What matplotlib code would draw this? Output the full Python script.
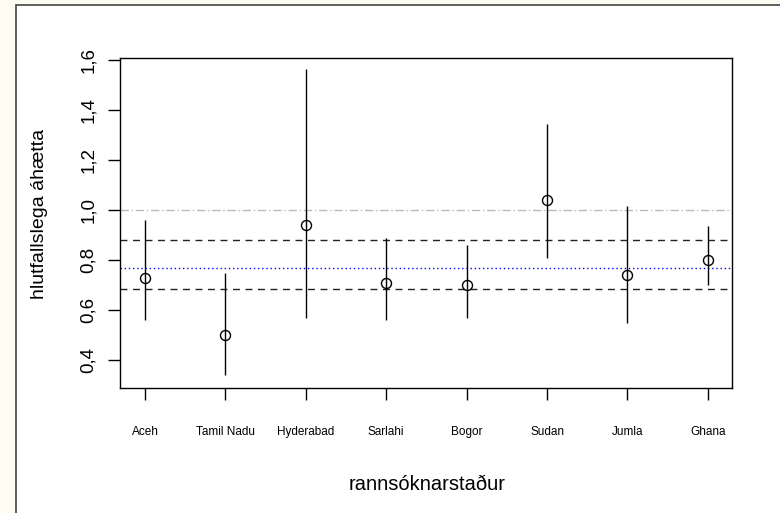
import matplotlib
matplotlib.use("Agg")
import matplotlib.pyplot as plt
from matplotlib.patches import Rectangle
from matplotlib.ticker import FuncFormatter

sites = ["Aceh", "Tamil Nadu", "Hyderabad", "Sarlahi", "Bogor", "Sudan", "Jumla", "Ghana"]
rr = [0.73, 0.50, 0.94, 0.71, 0.70, 1.04, 0.74, 0.80]
lower = [0.56, 0.34, 0.57, 0.56, 0.57, 0.81, 0.55, 0.70]
upper = [0.96, 0.75, 1.565, 0.89, 0.86, 1.345, 1.015, 0.935]
pooled = 0.767
pooled_lo = 0.683
pooled_hi = 0.88
null_line = 1.0
yticks = [0.4, 0.6, 0.8, 1.0, 1.2, 1.4, 1.6]

plt.rcParams['font.family'] = ['Liberation Sans', 'DejaVu Sans']

W, H = 780, 513
fig = plt.figure(figsize=(W / 100, H / 100), dpi=100)
fig.patch.set_facecolor('#fcfcf0')
fig.patches.append(Rectangle((16 / W, -0.05), 1.1, 1.05 - 5 / H, transform=fig.transFigure,
                             facecolor='white', edgecolor='#444444', linewidth=1.2, zorder=-5))

ax = fig.add_axes([120 / W, 1 - 388 / H, (732 - 120) / W, (388 - 58) / H])
ax.set_zorder(2)
ax.set_facecolor('white')
x = list(range(1, len(sites) + 1))

ax.axhline(null_line, color='#bbbbbb', linestyle=(0, (6, 2, 1, 2)), linewidth=1)
ax.axhline(pooled_hi, color='#222222', linestyle=(0, (5, 4)), linewidth=1)
ax.axhline(pooled_lo, color='#222222', linestyle=(0, (5, 4)), linewidth=1)
ax.axhline(pooled, color='blue', linestyle=(0, (1, 2)), linewidth=1)

ax.vlines(x, lower, upper, color='black', linewidth=1)
ax.plot(x, rr, 'o', markerfacecolor='none', markeredgecolor='black', markersize=7.2, markeredgewidth=1)

ax.set_xlim(0.69, 8.3)
ax.set_ylim(0.288, 1.608)
ax.set_xticks(x)
ax.set_xticklabels(sites, fontsize=8.5)
ax.set_yticks(yticks)
ax.yaxis.set_major_formatter(FuncFormatter(lambda v, p: f"{v:.1f}".replace('.', ',')))
for lab in ax.get_yticklabels():
    lab.set_rotation(90)
    lab.set_va('center')
ax.tick_params(axis='x', length=8.5, width=1, pad=19)
ax.tick_params(axis='y', length=8.6, width=1, pad=8, labelsize=13.5)
for s in ax.spines.values():
    s.set_linewidth(1)

fig.text(40 / W, 1 - 214 / H, "hlutfallslega áhætta", rotation=90, ha='center', va='center', fontsize=14)
fig.text(427 / W, 1 - 484 / H, "rannsóknarstaður", ha='center', va='center', fontsize=14.5)

fig.savefig("out.png", dpi=100, facecolor=fig.get_facecolor())
